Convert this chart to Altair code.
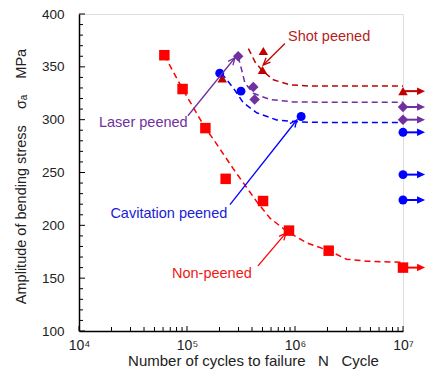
import altair as alt
import pandas as pd

# ---------------- data ----------------
# Non-peened (red squares)
np_N = [61700, 91000, 148000, 228000, 506000, 880000, 2050000, 1e7]
np_S = [361, 329, 292, 244, 223, 195, 176, 160]
# Shot peened (dark red triangles)
sp_N = [212000, 509000, 500000, 1e7]
sp_S = [339, 365, 347, 327]
# Laser peened (purple diamonds)
lp_N = [298000, 411000, 423000, 1e7, 1e7]
lp_S = [360, 331, 319, 312, 300]
# Cavitation peened (blue circles)
cp_N = [201000, 316000, 1140000, 1e7, 1e7, 1e7]
cp_S = [344, 327, 303, 288, 248, 224]

# run-outs (arrows at 10^7)
run_S = [160, 327, 312, 300, 288, 248, 224]
run_series = ["np", "sp", "lp", "lp", "cp", "cp", "cp"]

# fitted S-N curves (dashed)
np_curve_N = [61700, 91000, 146800, 175000, 268000, 344000, 442000, 587000, 838000,
              1280000, 2050000, 3000000, 4600000, 1e7]
np_curve_S = [361, 329, 292.5, 281.6, 253.6, 238, 222.4, 206.8, 194.4, 183.5, 176, 168, 166, 165]
sp_curve_N = [370000, 426000, 491000, 631000, 899000, 1380000, 3000000, 1e7]
sp_curve_S = [367.3, 354.8, 347, 337.7, 333, 331.8, 331.8, 331.8]
lp_curve_N = [298000, 321000, 344000, 411000, 587000, 965000, 2000000, 1e7]
lp_curve_S = [359.5, 347, 334.6, 325, 319, 316.8, 316.5, 316.5]
cp_curve_N = [209000, 268000, 332000, 442000, 676000, 1110000, 2000000, 1e7]
cp_curve_S = [344, 330, 316, 306.5, 299.7, 297.8, 297.3, 297.3]

# annotation labels and arrows
ann_text = ["Shot peened", "Laser peened", "Cavitation peened", "Non-peened"]
ann_series = ["sp", "lp", "cp", "np"]
ann_tx = [2070000, 39400, 67900, 170000]
ann_ty = [378.2, 296.5, 210.9, 153.9]
ann_x0 = [807000, 102000, 250000, 454000]
ann_y0 = [372, 303.7, 219.6, 161.7]
ann_x1 = [508000, 278000, 1040000, 826000]
ann_y1 = [351.7, 358.6, 299.7, 192.8]

# axis ticks
x_major = [1e4, 1e5, 1e6, 1e7]
x_minor = [m * 10 ** e for e in (4, 5, 6) for m in range(2, 10)]
y_major = [100, 150, 200, 250, 300, 350, 400]
y_minor = [v for v in range(110, 400, 10) if v % 50]

# ---------------- styling ----------------
FONT = "Liberation Sans"
W, H = 324, 317
COL = {"np": "#FF0000", "sp": "#C00000", "lp": "#7030A0", "cp": "#0000FF"}
TXT = {"np": "#F01818", "sp": "#B41E1E", "lp": "#7030A0", "cp": "#2020D8"}
ANG = {"sp": 225, "lp": 38.7, "cp": 37.9, "np": 40}
VHEAD = "M-0.55,1.25L0,0L0.55,1.25"
RHEAD = "M0,0L-1.6,-0.75L-1.6,0.75Z"

xs = alt.Scale(type="log", domain=[1e4, 1e7])
ys = alt.Scale(domain=[100, 400])

AX = alt.Axis(
    values=x_major, ticks=False, grid=False, domainColor="black", domainWidth=1.5,
    labelExpr="'10' + ['\u2074','\u2075','\u2076','\u2077'][round(log(datum.value)/LN10)-4]",
    labelFont=FONT, labelFontSize=14, labelColor="#222", labelPadding=7, labelFlush=False,
    title="Number of cycles to failure\u00a0\u00a0\u00a0N\u00a0\u00a0\u00a0Cycle",
    titleFont=FONT, titleFontSize=15, titleFontWeight="normal", titleColor="#222",
    titleX=174, titleY=29, titleBaseline="middle", titleAlign="center")
AY = alt.Axis(
    values=y_major, ticks=False, grid=False, domainColor="black", domainWidth=1.5,
    labelFont=FONT, labelFontSize=13.5, labelColor="#222", labelPadding=15, labelFlush=False,
    title="Amplitude of bending stress\u00a0\u00a0\u00a0\u00a0\u03c3\u2090\u00a0\u00a0\u00a0\u00a0MPa",
    titleFont=FONT, titleFontSize=14.5, titleFontWeight="normal", titleColor="#222",
    titleX=-58, titleY=162, titleAngle=-90, titleBaseline="middle", titleAlign="center")


def X(f):
    return alt.X(f, scale=xs, axis=AX)


def Y(f):
    return alt.Y(f, scale=ys, axis=AY)


layers = []

# inward ticks
layers.append(alt.Chart(pd.DataFrame({"v": x_major})).mark_rule(color="black", strokeWidth=1).encode(
    x=X("v:Q"), y=alt.value(H), y2=alt.value(H - 5)))
layers.append(alt.Chart(pd.DataFrame({"v": x_minor})).mark_rule(color="black", strokeWidth=1).encode(
    x=X("v:Q"), y=alt.value(H), y2=alt.value(H - 4)))
layers.append(alt.Chart(pd.DataFrame({"v": y_major})).mark_rule(color="black", strokeWidth=1).encode(
    y=Y("v:Q"), x=alt.value(0), x2=alt.value(6)))
layers.append(alt.Chart(pd.DataFrame({"v": y_minor})).mark_rule(color="black", strokeWidth=1).encode(
    y=Y("v:Q"), x=alt.value(0), x2=alt.value(4)))


def line(N, S, key):
    df = pd.DataFrame({"N": N, "S": S})
    return alt.Chart(df).mark_line(color=COL[key], strokeWidth=1.5, strokeDash=[6, 4]).encode(
        x=X("N:Q"), y=Y("S:Q"))


def pts(N, S, key, shape, size):
    df = pd.DataFrame({"N": N, "S": S})
    return alt.Chart(df).mark_point(shape=shape, filled=True, color=COL[key], size=size,
                                    opacity=1, strokeWidth=0).encode(x=X("N:Q"), y=Y("S:Q"))


layers += [
    line(np_curve_N, np_curve_S, "np"),
    line(sp_curve_N, sp_curve_S, "sp"),
    line(lp_curve_N, lp_curve_S, "lp"),
    line(cp_curve_N, cp_curve_S, "cp"),
]

# run-out arrows
run_df = pd.DataFrame({"S": run_S, "k": run_series, "x0": [1e7] * len(run_S),
                       "x1": [1.45e7] * len(run_S), "xh": [1.6e7] * len(run_S)})
for key in COL:
    d = run_df[run_df.k == key]
    layers.append(alt.Chart(d).mark_rule(color=COL[key], strokeWidth=2).encode(
        x=X("x0:Q"), x2="x1:Q", y=Y("S:Q")))
    layers.append(alt.Chart(d).mark_point(shape=RHEAD, filled=True, color=COL[key], size=100,
                                          opacity=1, strokeWidth=0).encode(x=X("xh:Q"), y=Y("S:Q")))

layers += [
    pts(np_N, np_S, "np", "square", 110),
    pts(sp_N, sp_S, "sp", "triangle-up", 90),
    pts(lp_N, lp_S, "lp", "diamond", 110),
    pts(cp_N, cp_S, "cp", "circle", 80),
]

# annotations
for t, key, tx, ty, x0, y0, x1, y1 in zip(ann_text, ann_series, ann_tx, ann_ty,
                                           ann_x0, ann_y0, ann_x1, ann_y1):
    d = pd.DataFrame({"x0": [x0], "y0": [y0], "x1": [x1], "y1": [y1], "tx": [tx], "ty": [ty], "t": [t]})
    layers.append(alt.Chart(d).mark_rule(color=COL[key], strokeWidth=1.3).encode(
        x=X("x0:Q"), x2="x1:Q", y=Y("y0:Q"), y2="y1:Q"))
    layers.append(alt.Chart(d).mark_point(shape=VHEAD, filled=False, color=COL[key], size=130,
                                          strokeWidth=1.3, opacity=1, angle=ANG[key]).encode(
        x=X("x1:Q"), y=Y("y1:Q")))
    layers.append(alt.Chart(d).mark_text(font=FONT, fontSize=14.5, color=TXT[key],
                                         align="center", baseline="middle").encode(
        x=X("tx:Q"), y=Y("ty:Q"), text="t:N"))

chart = alt.layer(*layers).properties(
    width=W, height=H,
    autosize=alt.AutoSizeParams(type="none"),
    padding={"left": 71, "top": 6, "right": 25, "bottom": 39},
).configure_view(stroke="black", strokeWidth=1.2).configure(background="white")

chart.save("out.html", embed_options={"renderer": "svg", "actions": False})
